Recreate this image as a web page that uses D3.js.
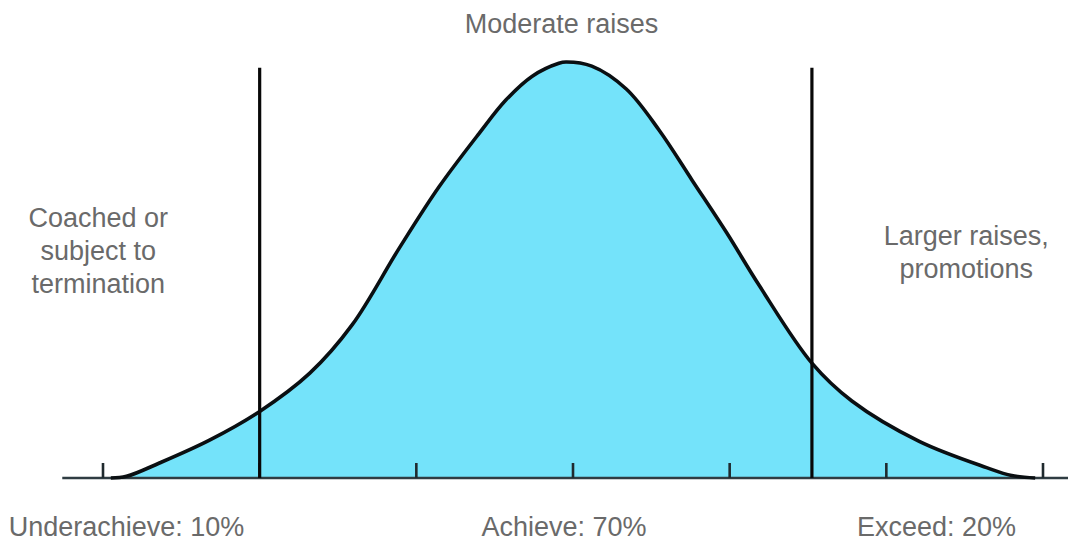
<!DOCTYPE html>
<html>
<head>
<meta charset="utf-8">
<script src="https://cdn.jsdelivr.net/npm/d3@7"></script>
<style>
  html, body { margin: 0; padding: 0; background: #ffffff; }
  svg { display: block; }
  text { font-family: "Liberation Sans", Arial, Helvetica, sans-serif; fill: #6a6a6a; }
</style>
</head>
<body>
<svg id="chart" width="1068" height="542"></svg>
<script>
// ---- data (x in standard deviations from the mean, y = relative height, peak = 1) ----
const curveSigma  = [-2.95, -2.85, -2.64, -2.32, -2.00, -1.68, -1.41, -1.11, -0.855, -0.60, -0.43, -0.26, -0.09, -0.045, 0.12, 0.34, 0.55, 0.76, 0.98, 1.19, 1.525, 1.78, 2.21, 2.64, 2.80, 2.95];
const curveHeight = [0, 0.004, 0.036, 0.091, 0.160, 0.252, 0.368, 0.552, 0.700, 0.828, 0.908, 0.966, 0.997, 1.0, 0.990, 0.935, 0.836, 0.716, 0.590, 0.462, 0.276, 0.185, 0.088, 0.025, 0.006, 0];
const tickSigma = [-3, -2, -1, 0, 1, 2, 3];
const dividerSigma = [-2.0, 1.525];
const axisExtent = [-3.26, 3.18];
const bottomLabels = [
  { sigma: -2.85, text: "Underachieve: 10%" },
  { sigma: -0.057, text: "Achieve: 70%" },
  { sigma: 2.32, text: "Exceed: 20%" }
];
const topLabel = { sigma: -0.073, text: "Moderate raises" };
const sideLabels = [
  { sigma: -3.03, lines: ["Coached or", "subject to", "termination"] },
  { sigma: 2.51, lines: ["Larger raises,", "promotions"] }
];

// ---- chart ----
const svg = d3.select("#chart");
const x = d3.scaleLinear().domain([-3, 3]).range([103, 1043]);
const y = d3.scaleLinear().domain([0, 1]).range([478, 62]);

const pts = curveSigma.map((s, i) => [s, curveHeight[i]]);

const area = d3.area()
  .x(d => x(d[0])).y0(y(0)).y1(d => y(d[1]))
  .curve(d3.curveCatmullRom.alpha(0.5));
const line = d3.line()
  .x(d => x(d[0])).y(d => y(d[1]))
  .curve(d3.curveCatmullRom.alpha(0.5));

svg.append("path").datum(pts).attr("d", area).attr("fill", "#74e3fa");

// baseline
svg.append("line")
  .attr("x1", x(axisExtent[0])).attr("x2", x(axisExtent[1]))
  .attr("y1", y(0)).attr("y2", y(0))
  .attr("stroke", "#2f3c42").attr("stroke-width", 2.6);

// ticks
svg.selectAll("line.tick").data(tickSigma).enter().append("line")
  .attr("class", "tick")
  .attr("x1", d => x(d)).attr("x2", d => x(d))
  .attr("y1", y(0)).attr("y2", y(0) - 15)
  .attr("stroke", "#1f2a2e").attr("stroke-width", 2.6);

// curve outline
svg.append("path").datum(pts).attr("d", line)
  .attr("fill", "none").attr("stroke", "#0a0f12").attr("stroke-width", 3.6)
  .attr("stroke-linejoin", "round");

// divider lines
svg.selectAll("line.div").data(dividerSigma).enter().append("line")
  .attr("class", "div")
  .attr("x1", d => x(d)).attr("x2", d => x(d))
  .attr("y1", y(0.986)).attr("y2", y(0))
  .attr("stroke", "#080808").attr("stroke-width", 3.2);

// labels
const fs = 27;
svg.append("text")
  .attr("x", x(topLabel.sigma)).attr("y", 33)
  .attr("text-anchor", "middle").attr("font-size", fs)
  .text(topLabel.text);

svg.selectAll("text.bottom").data(bottomLabels).enter().append("text")
  .attr("class", "bottom")
  .attr("x", d => x(d.sigma)).attr("y", 536)
  .attr("text-anchor", "middle").attr("font-size", fs)
  .text(d => d.text);

sideLabels.forEach((lab, k) => {
  const t = svg.append("text")
    .attr("x", x(lab.sigma))
    .attr("y", k === 0 ? 227 : 245)
    .attr("text-anchor", "middle").attr("font-size", fs);
  lab.lines.forEach((ln, i) => {
    t.append("tspan").attr("x", x(lab.sigma)).attr("dy", i === 0 ? 0 : 33).text(ln);
  });
});
</script>
</body>
</html>
